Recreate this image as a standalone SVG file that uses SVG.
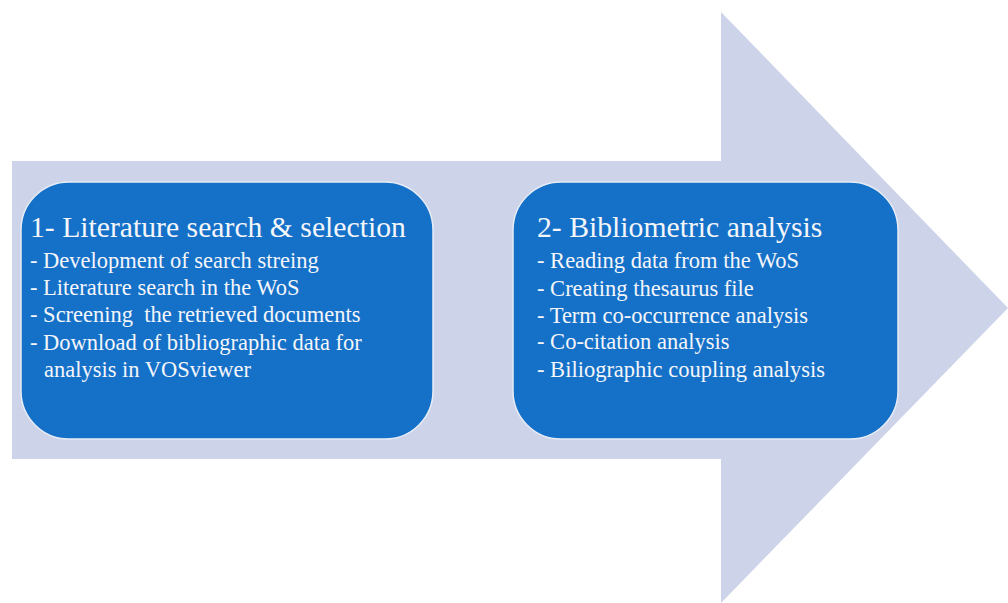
<svg xmlns="http://www.w3.org/2000/svg" width="1008" height="603" viewBox="0 0 1008 603">
<style>
.arrow{fill:#cdd3e8}
.box{fill:#1570c8;stroke:#e6ecf6;stroke-width:1.5}
.t{font-family:"Liberation Serif","Times New Roman",serif;fill:#f4f6fa}
.h{font-size:29.7px}
.l{font-size:22.5px}
</style>
<rect width="1008" height="603" fill="#ffffff"/>
<g id="arrow">
<polygon class="arrow" points="12,161 721,161 721,12 1008,308 721,603 721,459 12,459"/>
</g>
<g id="connectors"></g>
<g id="node1">
<rect class="box" x="21" y="182" width="412" height="257" rx="48" ry="48"/>
<text class="t h" x="30" y="237">1- Literature search &amp; selection</text>
<text class="t l" x="30" y="268">- Development of search streing</text>
<text class="t l" x="30" y="295">- Literature search in the WoS</text>
<text class="t l" x="30" y="322" xml:space="preserve">- Screening  the retrieved documents</text>
<text class="t l" x="30" y="350">- Download of bibliographic data for</text>
<text class="t l" x="44" y="377">analysis in VOSviewer</text>
</g>
<g id="node2">
<rect class="box" x="513" y="182" width="385" height="257" rx="48" ry="48"/>
<text class="t h" x="537" y="237">2- Bibliometric analysis</text>
<text class="t l" x="537" y="268">- Reading data from the WoS</text>
<text class="t l" x="537" y="296">- Creating thesaurus file</text>
<text class="t l" x="537" y="323">- Term co-occurrence analysis</text>
<text class="t l" x="537" y="349">- Co-citation analysis</text>
<text class="t l" x="537" y="377">- Biliographic coupling analysis</text>
</g>
</svg>
